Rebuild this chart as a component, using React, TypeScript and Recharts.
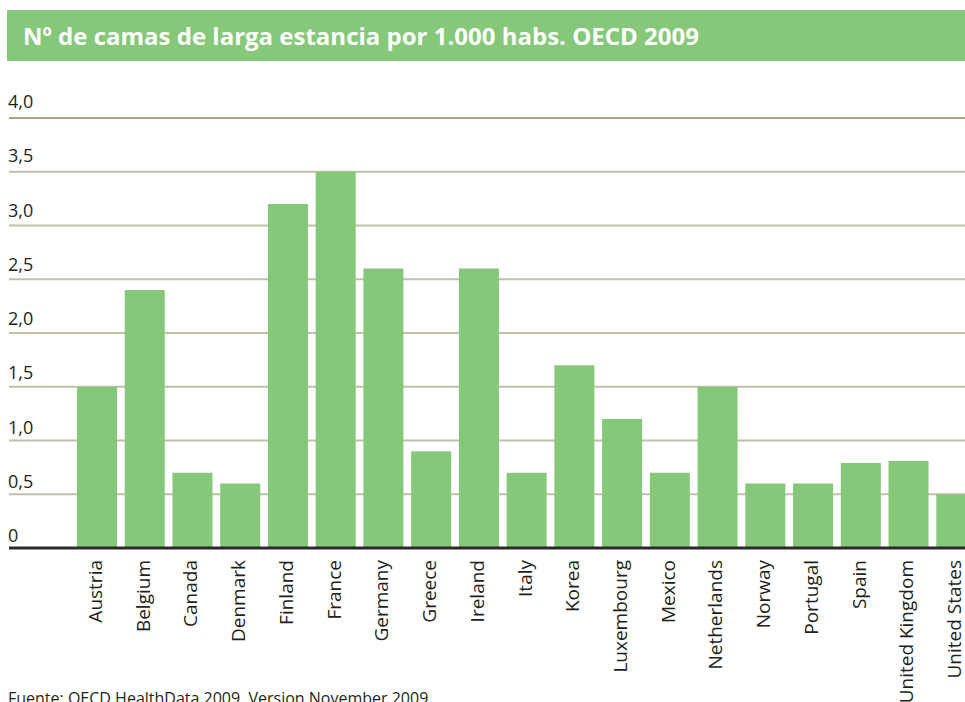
import React from "react";
import { BarChart, Bar, XAxis, YAxis, CartesianGrid, ReferenceLine } from "recharts";

const countries = [
  "Austria", "Belgium", "Canada", "Denmark", "Finland", "France", "Germany", "Greece",
  "Ireland", "Italy", "Korea", "Luxembourg", "Mexico", "Netherlands", "Norway",
  "Portugal", "Spain", "United Kingdom", "United States",
];
const beds = [1.5, 2.4, 0.7, 0.6, 3.2, 3.5, 2.6, 0.9, 2.6, 0.7, 1.7, 1.2, 0.7, 1.5, 0.6, 0.6, 0.79, 0.81, 0.5];
const yTicks = [0, 0.5, 1, 1.5, 2, 2.5, 3, 3.5, 4];
const yTickLabels = ["0", "0,5", "1,0", "1,5", "2,0", "2,5", "3,0", "3,5", "4,0"];
const title = "Nº de camas de larga estancia por 1.000 habs. OECD 2009";
const source = "Fuente: OECD HealthData 2009, Version November 2009";

const data = countries.map((c, i) => ({ country: c, value: beds[i] }));

const FONT = "'Open Sans', 'DejaVu Sans', sans-serif";
const GREEN = "#86c87a";

const renderYTick = (props: any) => {
  const { y, payload } = props;
  const idx = yTicks.indexOf(payload.value);
  return (
    <text
      key={`yt-${payload.value}`}
      x={8}
      y={y - 6 - payload.value}
      fontSize={18}
      fill="#231f20"
      fontFamily={FONT}
      textAnchor="start"
    >
      {yTickLabels[idx]}
    </text>
  );
};

const renderXTick = (props: any) => {
  const { x, y, payload } = props;
  return (
    <text
      key={`xt-${payload.value}`}
      transform={`translate(${x},${y + 4}) rotate(-90)`}
      textAnchor="end"
      dy={5}
      fontSize={19}
      fill="#231f20"
      fontFamily={FONT}
    >
      {payload.value}
    </text>
  );
};

export default function App() {
  return (
    <div
      style={{
        position: "fixed",
        left: 0,
        top: 0,
        width: 965,
        height: 702,
        overflow: "hidden",
        background: "#fff",
        fontFamily: FONT,
      }}
    >
      <div
        style={{
          position: "absolute",
          left: 7,
          top: 10,
          width: 960,
          height: 51,
          background: GREEN,
          color: "#fff",
          fontWeight: 700,
          fontSize: 24,
          lineHeight: "51px",
          paddingLeft: 16,
          boxSizing: "border-box",
          whiteSpace: "nowrap",
        }}
      >
        {title}
      </div>
      <div style={{ position: "absolute", left: 0, top: 0 }}>
        <BarChart
          width={980}
          height={702}
          data={data}
          margin={{ top: 118, right: 0, bottom: 0, left: 8 }}
        >
          <CartesianGrid vertical={false} stroke="#c2c0a6" strokeWidth={2} />
          <ReferenceLine y={4} stroke="#aaa47c" strokeWidth={2} />
          <YAxis
            width={1}
            domain={[0, 4]}
            ticks={yTicks}
            axisLine={false}
            tickLine={false}
            tick={renderYTick}
            interval={0}
          />
          <XAxis
            dataKey="country"
            height={154}
            interval={0}
            padding={{ left: 64, right: 0 }}
            axisLine={{ stroke: "#2b2a29", strokeWidth: 3 }}
            tickLine={false}
            tick={renderXTick}
          />
          <Bar dataKey="value" fill={GREEN} barSize={40} isAnimationActive={false} />
        </BarChart>
      </div>
      <div
        style={{
          position: "absolute",
          left: 8,
          top: 688,
          fontSize: 16,
          color: "#231f20",
          whiteSpace: "nowrap",
          lineHeight: "20px",
        }}
      >
        {source}
      </div>
    </div>
  );
}
